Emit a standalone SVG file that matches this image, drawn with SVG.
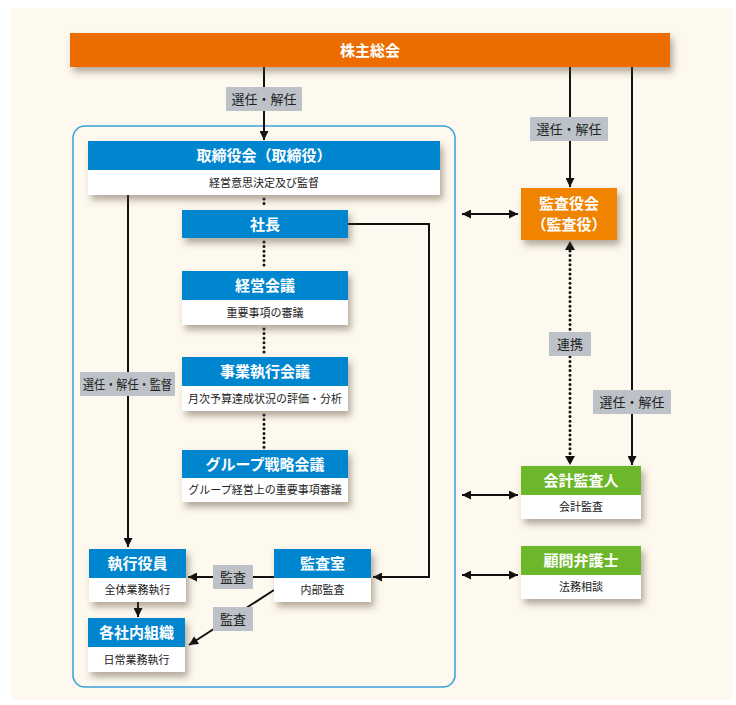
<svg xmlns="http://www.w3.org/2000/svg" width="736" height="705" viewBox="0 0 736 705">
<defs>
<filter id="sh" x="-10%" y="-20%" width="130%" height="170%">
<feDropShadow dx="3" dy="5" stdDeviation="3.5" flood-color="#5a4632" flood-opacity="0.45"/>
</filter>
<marker id="ah" viewBox="0 0 10 10" refX="10" refY="5" markerWidth="10" markerHeight="9" markerUnits="userSpaceOnUse" orient="auto-start-reverse">
<path d="M0,0 L10,5 L0,10 Z" fill="#111"/>
</marker>
</defs>
<style>
.t{font-family:"Noto Sans CJK JP","Noto Sans",sans-serif;text-anchor:middle}
.hd{font-size:15px;font-weight:bold;fill:#fff}
.sb{font-size:11px;fill:#222}
.lb{font-size:13px;fill:#222}
.blue{fill:#0086CF}
.wh{fill:#fff}
.gr{fill:#6DB72C}
.lab{fill:#BCC2C8}
.ln{stroke:#111;stroke-width:2;fill:none}
.dt{stroke:#111;stroke-width:3;fill:none;stroke-dasharray:0 4.6;stroke-linecap:round}
</style>
<rect x="11" y="8" width="722" height="692" fill="#FDF9EF"/>
<rect id="container" x="73" y="126" width="382" height="561" rx="12" fill="none" stroke="#3A9FD9" stroke-width="1.5"/>

<g id="connectors">
<line class="ln" x1="264" y1="67" x2="264" y2="140" marker-end="url(#ah)"/>
<line class="dt" x1="264" y1="199" x2="264" y2="208"/>
<line class="dt" x1="264" y1="242" x2="264" y2="269"/>
<line class="dt" x1="264" y1="329" x2="264" y2="355"/>
<line class="dt" x1="264" y1="415" x2="264" y2="448"/>
<line class="ln" x1="128" y1="195" x2="128" y2="547" marker-end="url(#ah)"/>
<line class="ln" x1="138" y1="602" x2="138" y2="617" marker-end="url(#ah)"/>
<path class="ln" d="M348,224 H429 V577 H373" marker-end="url(#ah)"/>
<line class="ln" x1="274" y1="577" x2="188" y2="577" marker-end="url(#ah)"/>
<line class="ln" x1="274" y1="590" x2="189" y2="645" marker-end="url(#ah)"/>
<line class="ln" x1="570" y1="67" x2="570" y2="187" marker-end="url(#ah)"/>
<line class="ln" x1="462" y1="214" x2="518" y2="214" marker-start="url(#ah)" marker-end="url(#ah)"/>
<line class="dt" x1="570" y1="251" x2="570" y2="456"/>
<path d="M570,241 L565,250 L575,250 Z" fill="#111"/>
<path d="M570,465 L565,456 L575,456 Z" fill="#111"/>
<line class="ln" x1="632" y1="67" x2="632" y2="465" marker-end="url(#ah)"/>
<line class="ln" x1="462" y1="495" x2="518" y2="495" marker-start="url(#ah)" marker-end="url(#ah)"/>
<line class="ln" x1="462" y1="575" x2="518" y2="575" marker-start="url(#ah)" marker-end="url(#ah)"/>
<rect class="lab" x="226" y="87" width="76" height="24"/>
<text class="t lb" x="264" y="104">選任・解任</text>
<rect class="lab" x="80" y="372" width="95" height="24"/>
<text class="t lb" x="127.5" y="389" textLength="89" lengthAdjust="spacingAndGlyphs">選任・解任・監督</text>
<rect class="lab" x="213" y="565" width="40" height="24"/>
<text class="t lb" x="233" y="582">監査</text>
<rect class="lab" x="213" y="607" width="40" height="24"/>
<text class="t lb" x="233" y="624">監査</text>
<rect class="lab" x="530" y="117" width="78" height="24"/>
<text class="t lb" x="569" y="134">選任・解任</text>
<rect class="lab" x="549" y="332" width="42" height="24"/>
<text class="t lb" x="570" y="349">連携</text>
<rect class="lab" x="593" y="390" width="78" height="24"/>
<text class="t lb" x="632" y="407">選任・解任</text>
</g>

<g id="shareholders">
<rect x="70" y="33" width="600" height="34" fill="#EC6C00" filter="url(#sh)"/>
<text class="t hd" x="370" y="56" font-size="16">株主総会</text>
</g>

<g id="board">
<g filter="url(#sh)"><rect class="blue" x="88" y="141" width="352" height="29"/><rect class="wh" x="88" y="170" width="352" height="25"/></g>
<text class="t hd" x="264" y="161">取締役会（取締役）</text>
<text class="t sb" x="264" y="187">経営意思決定及び監督</text>
</g>

<g id="president">
<rect class="blue" x="182" y="210" width="166" height="28" filter="url(#sh)"/>
<text class="t hd" x="265" y="230">社長</text>
</g>

<g id="mgmt-meeting">
<g filter="url(#sh)"><rect class="blue" x="182" y="271" width="166" height="29"/><rect class="wh" x="182" y="300" width="166" height="25"/></g>
<text class="t hd" x="265" y="291">経営会議</text>
<text class="t sb" x="265" y="317">重要事項の審議</text>
</g>

<g id="exec-meeting">
<g filter="url(#sh)"><rect class="blue" x="182" y="357" width="166" height="29"/><rect class="wh" x="182" y="386" width="166" height="25"/></g>
<text class="t hd" x="265" y="377">事業執行会議</text>
<text class="t sb" x="265" y="403">月次予算達成状況の評価・分析</text>
</g>

<g id="group-meeting">
<g filter="url(#sh)"><rect class="blue" x="182" y="450" width="166" height="28"/><rect class="wh" x="182" y="478" width="166" height="24"/></g>
<text class="t hd" x="265" y="470">グループ戦略会議</text>
<text class="t sb" x="265" y="494">グループ経営上の重要事項審議</text>
</g>

<g id="officers">
<g filter="url(#sh)"><rect class="blue" x="89" y="549" width="97" height="29"/><rect class="wh" x="89" y="578" width="97" height="24"/></g>
<text class="t hd" x="137.5" y="569">執行役員</text>
<text class="t sb" x="137.5" y="594">全体業務執行</text>
</g>

<g id="internal-org">
<g filter="url(#sh)"><rect class="blue" x="88" y="618" width="97" height="29"/><rect class="wh" x="88" y="647" width="97" height="25"/></g>
<text class="t hd" x="136.5" y="638">各社内組織</text>
<text class="t sb" x="136.5" y="664">日常業務執行</text>
</g>

<g id="audit-office">
<g filter="url(#sh)"><rect class="blue" x="274" y="549" width="97" height="29"/><rect class="wh" x="274" y="578" width="97" height="24"/></g>
<text class="t hd" x="322.5" y="569">監査室</text>
<text class="t sb" x="322.5" y="594">内部監査</text>
</g>

<g id="auditors">
<rect x="521" y="188" width="96" height="52" fill="#F08300" filter="url(#sh)"/>
<text class="t hd" x="569" y="209">監査役会</text>
<text class="t hd" x="569" y="230">（監査役）</text>
</g>

<g id="accounting-auditor">
<g filter="url(#sh)"><rect class="gr" x="521" y="466" width="120" height="29"/><rect class="wh" x="521" y="495" width="120" height="24"/></g>
<text class="t hd" x="581" y="486">会計監査人</text>
<text class="t sb" x="581" y="511">会計監査</text>
</g>

<g id="lawyer">
<g filter="url(#sh)"><rect class="gr" x="521" y="546" width="120" height="29"/><rect class="wh" x="521" y="575" width="120" height="24"/></g>
<text class="t hd" x="581" y="566">顧問弁護士</text>
<text class="t sb" x="581" y="591">法務相談</text>
</g>
</svg>
